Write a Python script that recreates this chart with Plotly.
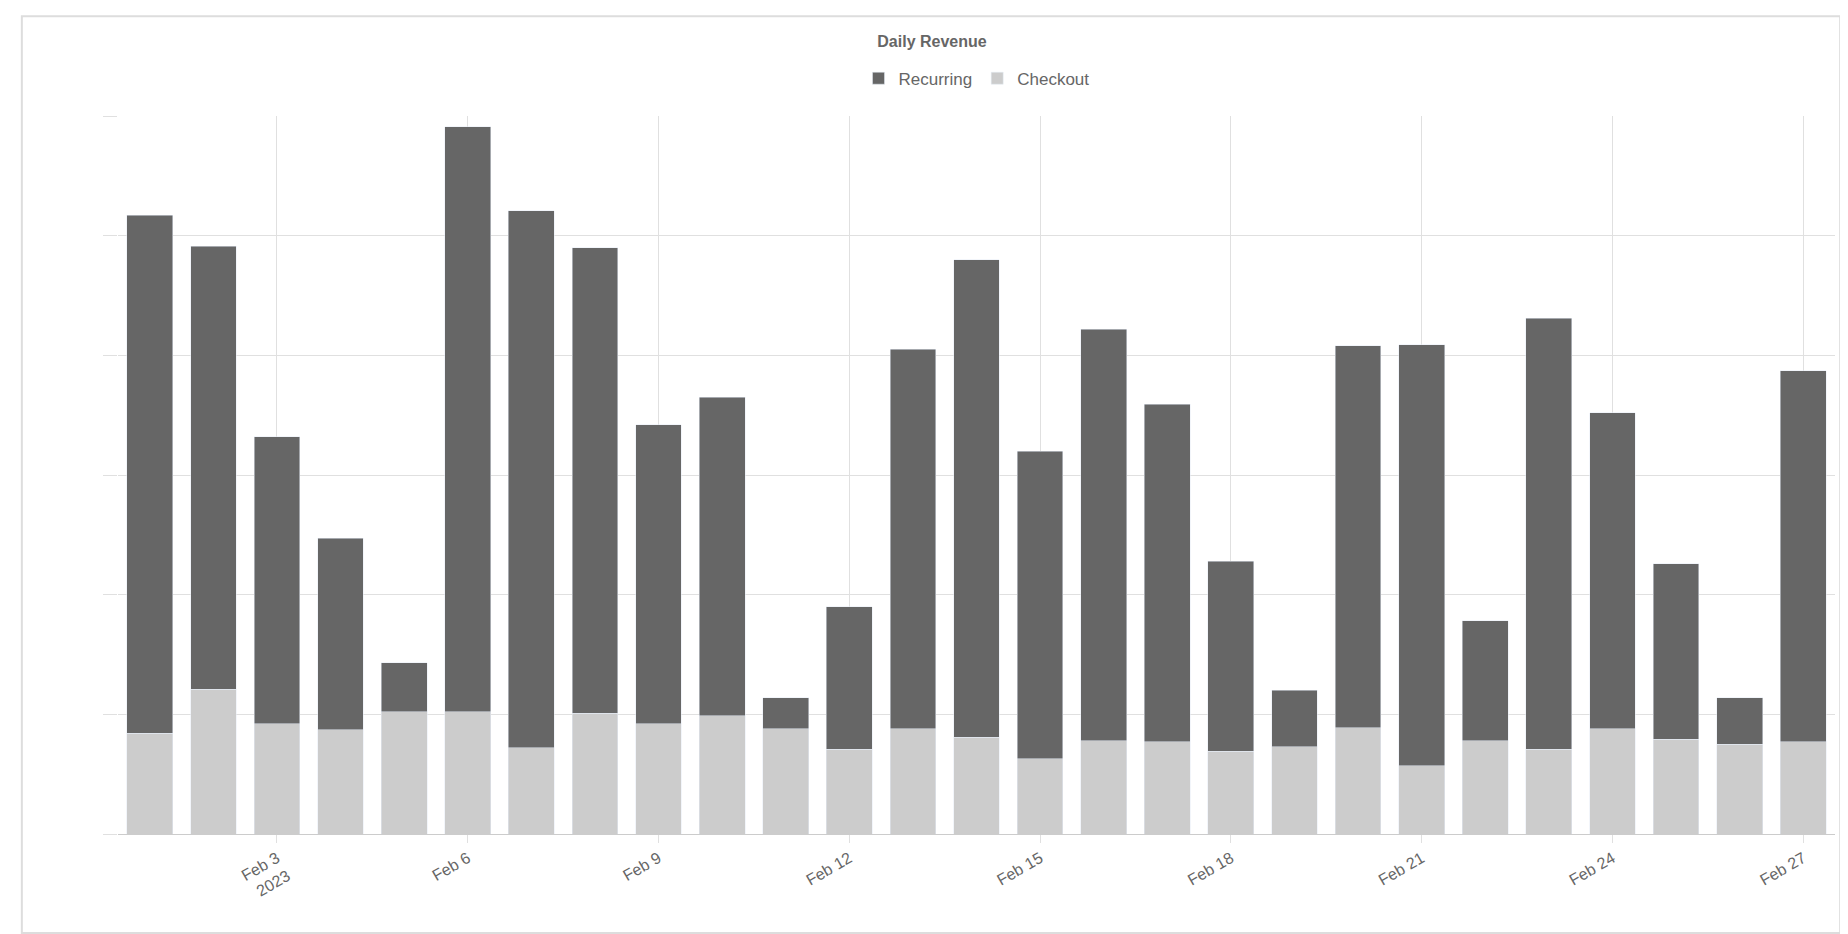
import plotly.graph_objects as go

dates = [f"2023-02-{d:02d}" for d in range(1, 28)]
checkout = [84, 121, 92, 87, 102, 102, 72, 101, 92, 99, 88, 71, 88, 81, 63, 78, 77, 69, 73, 89, 57, 78, 71, 88, 79, 75, 77]
totals = [517, 491, 332, 247, 143, 591, 521, 490, 342, 365, 114, 190, 405, 480, 320, 422, 359, 228, 120, 408, 409, 178, 431, 352, 226, 114, 387]
recurring = [t - c for t, c in zip(totals, checkout)]

fig = go.Figure()
fig.add_trace(go.Bar(x=dates, y=checkout, name="Checkout", marker_color="#cccccc"))
fig.add_trace(go.Bar(x=dates, y=recurring, name="Recurring", marker_color="#666666"))

fig.update_layout(
    barmode="stack",
    bargap=0.28,
    width=1848,
    height=934,
    paper_bgcolor="white",
    plot_bgcolor="white",
    font=dict(family="Liberation Sans, Arial, sans-serif", color="#666666", size=15),
    margin=dict(l=110, r=21, t=108, b=108),
    title=dict(text="<b>Daily Revenue</b>", x=0.5, xanchor="center", y=0.964, yanchor="middle",
               font=dict(size=16, color="#666666")),
    legend=dict(orientation="h", x=0.5, xanchor="center", y=1.052, yanchor="middle",
                font=dict(size=17, color="#666666")),
    showlegend=True,
)
fig.update_xaxes(tickson="boundaries", showgrid=True, gridcolor="#e0e0e0", ticks="outside",
                 ticklen=8, tickcolor="#e0e0e0", tickangle=-30, showline=True, linecolor="#cccccc",
                 tickfont=dict(size=16))
fig.update_yaxes(range=[0, 600], dtick=100, showgrid=True, gridcolor="#e0e0e0",
                 showticklabels=False, zeroline=False, ticks="outside", ticklen=14,
                 tickcolor="#e0e0e0")
fig.add_shape(type="rect", xref="paper", yref="paper", x0=-0.056, x1=1.003, y0=-0.138, y1=1.139,
              line=dict(color="#dddddd", width=2), fillcolor="rgba(0,0,0,0)", layer="below")

fig.write_html("out.html")
